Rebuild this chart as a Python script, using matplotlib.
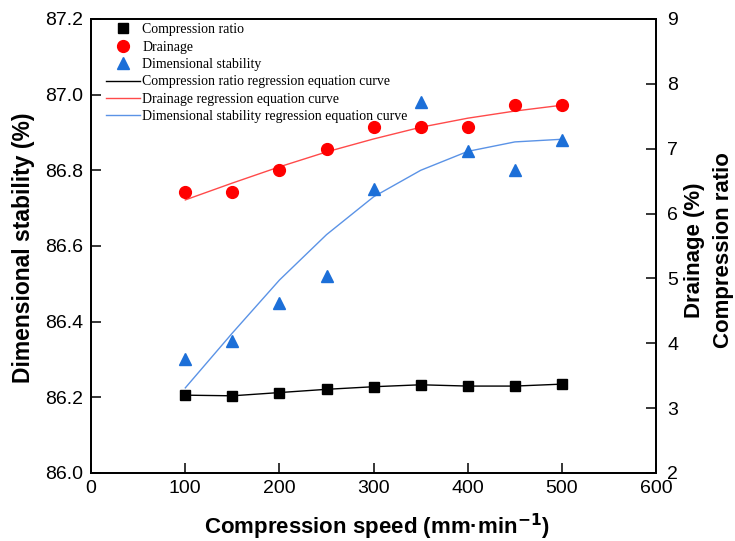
import matplotlib
matplotlib.use('Agg')
import matplotlib.pyplot as plt

# compression speed (mm/min)
speed = [100, 150, 200, 250, 300, 350, 400, 450, 500]

# measured values
comp_ratio = [3.20, 3.19, 3.24, 3.29, 3.33, 3.36, 3.34, 3.34, 3.37]
drainage = [6.33, 6.33, 6.67, 7.00, 7.33, 7.33, 7.33, 7.67, 7.67]
dim_stab = [86.30, 86.35, 86.45, 86.52, 86.75, 86.98, 86.85, 86.80, 86.88]

# regression curves
comp_fit = [3.20, 3.19, 3.24, 3.29, 3.33, 3.36, 3.34, 3.34, 3.37]
drain_fit = [6.21, 6.47, 6.72, 6.95, 7.15, 7.33, 7.47, 7.58, 7.67]
dim_fit = [86.225, 86.37, 86.51, 86.63, 86.73, 86.80, 86.85, 86.875, 86.882]

plt.rcParams['font.family'] = 'Liberation Sans'

fig = plt.figure(figsize=(7.35, 5.41), dpi=100)
ax = fig.add_axes([0.124, 0.1257, 0.7687, 0.8393])
ax2 = ax.twinx()

l_dim, = ax.plot(speed, dim_fit, color='#5b93e6', lw=1.0,
                 label='Dimensional stability regression equation curve')
p_dim, = ax.plot(speed, dim_stab, ls='none', marker='^', ms=9, color='#1c6fd8',
                 label='Dimensional stability')

l_comp, = ax2.plot(speed, comp_fit, color='black', lw=1.0,
                   label='Compression ratio regression equation curve')
l_drain, = ax2.plot(speed, drain_fit, color='#ff4a4a', lw=1.0,
                    label='Drainage regression equation curve')
p_comp, = ax2.plot(speed, comp_ratio, ls='none', marker='s', ms=7, color='black',
                   label='Compression ratio')
p_drain, = ax2.plot(speed, drainage, ls='none', marker='o', ms=8.5, color='#ff0000',
                    label='Drainage')

ax.set_xlim(0, 600)
ax.set_ylim(86.0, 87.2)
ax2.set_ylim(2, 9)
ax.set_xticks([0, 100, 200, 300, 400, 500, 600])
ax.set_yticks([86.0, 86.2, 86.4, 86.6, 86.8, 87.0, 87.2])
ax.yaxis.set_major_formatter(matplotlib.ticker.FormatStrFormatter('%.1f'))
ax2.set_yticks(range(2, 10))

for a in (ax, ax2):
    a.tick_params(direction='in', length=7, width=1.1, labelsize=14)
    for s in a.spines.values():
        s.set_linewidth(1.3)
ax.tick_params(axis='y', pad=6)
ax.tick_params(axis='x', pad=5)
ax2.tick_params(axis='y', pad=8)

ax.set_xlabel('Compression speed (mm·min$^{\\mathbf{-1}}$)', fontsize=16, fontweight='bold')
ax.xaxis.set_label_coords(0.506, -0.085)
ax.set_ylabel('Dimensional stability (%)', fontsize=16.5, fontweight='bold')
ax.yaxis.set_label_coords(-0.1, 0.495)
ax2.set_ylabel('Drainage (%)\nCompression ratio', fontsize=16, fontweight='bold',
               multialignment='center', rotation=90, linespacing=1.45)
ax2.yaxis.set_label_coords(1.05, 0.49)

handles = [p_comp, p_drain, p_dim, l_comp, l_drain, l_dim]
ax.legend(handles=handles, loc='upper left', bbox_to_anchor=(0.022, 0.997),
          frameon=False, prop={'family': 'Liberation Serif', 'size': 10},
          handlelength=2.4, labelspacing=0.32, handletextpad=0.2,
          borderpad=0.2, borderaxespad=0.0)

fig.savefig('out.png', dpi=100)
